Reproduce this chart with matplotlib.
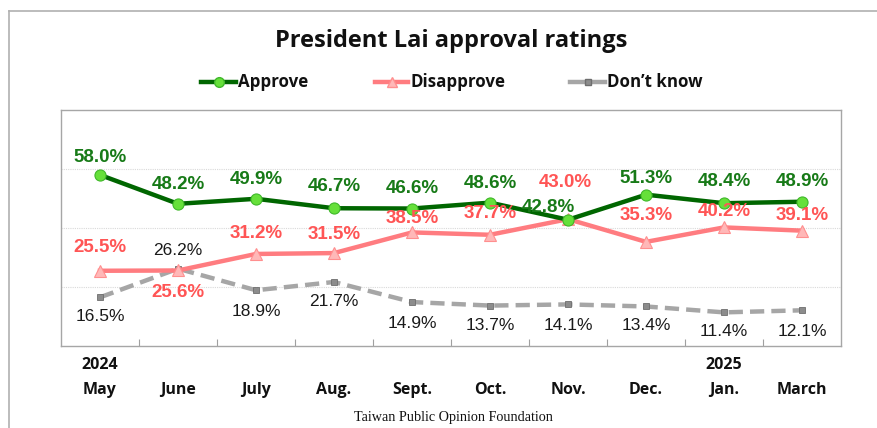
import matplotlib
matplotlib.use("Agg")
import matplotlib.pyplot as plt
from matplotlib.lines import Line2D

months = ["May", "June", "July", "Aug.", "Sept.", "Oct.", "Nov.", "Dec.", "Jan.", "March"]
years = ["2024", "", "", "", "", "", "", "", "2025", ""]
approve = [58.0, 48.2, 49.9, 46.7, 46.6, 48.6, 42.8, 51.3, 48.4, 48.9]
disapprove = [25.5, 25.6, 31.2, 31.5, 38.5, 37.7, 43.0, 35.3, 40.2, 39.1]
dontknow = [16.5, 26.2, 18.9, 21.7, 14.9, 13.7, 14.1, 13.4, 11.4, 12.1]

# label offsets in pixels (dx, dy), layout only
app_off = [(0, 17), (0, 19), (0, 19), (0, 22), (0, 20), (0, 19), (-20, 12), (0, 16), (0, 22), (0, 20)]
dis_off = [(0, 23), (0, -22), (0, 20), (0, 19), (0, 14), (0, 21), (-3, 37), (0, 26), (0, 16), (0, 15)]
dk_off = [(0, -19), (0, 18), (0, -21), (0, -20), (0, -21), (0, -20), (0, -21), (0, -19), (0, -19), (0, -21)]

W, H = 877, 428
fig = plt.figure(figsize=(W / 100, H / 100), dpi=100)
ax = fig.add_axes([61 / W, 1 - 346 / H, 780 / W, 236 / H])

x = list(range(len(months)))
green_line = "#006600"
green_txt = "#177a17"
pink_line = "#ff7c80"
pink_txt = "#ff5555"
gray_line = "#a6a6a6"

ax.plot(x, approve, color=green_line, lw=3.2, marker="o", ms=8,
        mfc="#66e03a", mec="#3fb82a", mew=0.8, zorder=4)
ax.plot(x, disapprove, color=pink_line, lw=3.2, marker="^", ms=8,
        mfc="#ffb8b8", mec="#ff8f8f", mew=0.8, zorder=3)
ax.plot(x, dontknow, color=gray_line, lw=3.2, ls=(0, (3.2, 1.6)), marker="s", ms=5,
        mfc="#8c8c8c", mec="#6e6e6e", mew=0.6, zorder=2)

for i, v in enumerate(approve):
    ax.annotate(f"{v:.1f}%", (i, v), xytext=app_off[i], textcoords="offset pixels",
                ha="center", va="center", color=green_txt, fontweight="bold",
                family="Liberation Sans", fontsize=13.5, zorder=6)
for i, v in enumerate(disapprove):
    ax.annotate(f"{v:.1f}%", (i, v), xytext=dis_off[i], textcoords="offset pixels",
                ha="center", va="center", color=pink_txt, fontweight="bold",
                family="Liberation Sans", fontsize=13.5, zorder=6)
for i, v in enumerate(dontknow):
    ax.annotate(f"{v:.1f}%", (i, v), xytext=dk_off[i], textcoords="offset pixels",
                ha="center", va="center", color="#1a1a1a",
                family="Liberation Sans", fontsize=12.5, zorder=6)

ax.set_xlim(-0.5, len(months) - 0.5)
ax.set_ylim(0, 80)
ax.set_yticks([20, 40, 60])
ax.yaxis.grid(True, color="#d9d9d9", lw=0.8, ls=(0, (1, 1)))
ax.tick_params(axis="y", left=False, labelleft=False)
ax.set_xticks([k + 0.5 for k in range(len(months) - 1)])
ax.tick_params(axis="x", direction="in", length=5, color="#a0a0a0", labelbottom=False)
for s in ax.spines.values():
    s.set_color("#a6a6a6")
    s.set_linewidth(1.0)

xlab_font = dict(family="Open Sans", fontweight="bold", fontsize=11.5, color="#111111")
for i, (m, yr) in enumerate(zip(months, years)):
    xp = ax.transData.transform((i, 0))[0] / W
    fig.text(xp, 1 - 390 / H, m, ha="center", va="center", **xlab_font)
    if yr:
        fig.text(xp, 1 - 365 / H, yr, ha="center", va="center", **xlab_font)

fig.text(451 / W, 1 - 41 / H, "President Lai approval ratings", ha="center", va="center",
         family="Open Sans", fontweight="bold", fontsize=17, color="#111111")
fig.text(453 / W, 1 - 418 / H, "Taiwan Public Opinion Foundation", ha="center", va="center",
         family="Liberation Serif", fontsize=10.2, color="#111111")

# legend
leg_items = [
    (201, 236, 238, "Approve", dict(color=green_line, marker="o", ms=7, mfc="#66e03a", mec="#3fb82a")),
    (375, 408, 410, "Disapprove", dict(color=pink_line, marker="^", ms=7, mfc="#ffb8b8", mec="#ff8f8f")),
    (570, 605, 607, "Don\u2019t know", dict(color=gray_line, marker="s", ms=4, mfc="#8c8c8c", mec="#6e6e6e")),
]
ly = 1 - 82 / H
for x0, x1, tx, name, st in leg_items:
    fig.add_artist(Line2D([x0 / W, x1 / W], [ly, ly], lw=3.2, transform=fig.transFigure,
                          color=st["color"]))
    fig.add_artist(Line2D([(x0 + x1) / 2 / W], [ly], transform=fig.transFigure, ls="none",
                          marker=st["marker"], ms=st["ms"], mfc=st["mfc"], mec=st["mec"]))
    fig.text(tx / W, ly, name, ha="left", va="center", family="Open Sans",
             fontweight="bold", fontsize=12.2, color="#111111")

# outer frame (partial)
fig.add_artist(Line2D([9 / W, 1], [1 - 11 / H, 1 - 11 / H], transform=fig.transFigure,
                      color="#b0b0b0", lw=1.2))
fig.add_artist(Line2D([9 / W, 9 / W], [0, 1 - 11 / H], transform=fig.transFigure,
                      color="#b0b0b0", lw=1.2))

fig.savefig("out.png", dpi=100)
